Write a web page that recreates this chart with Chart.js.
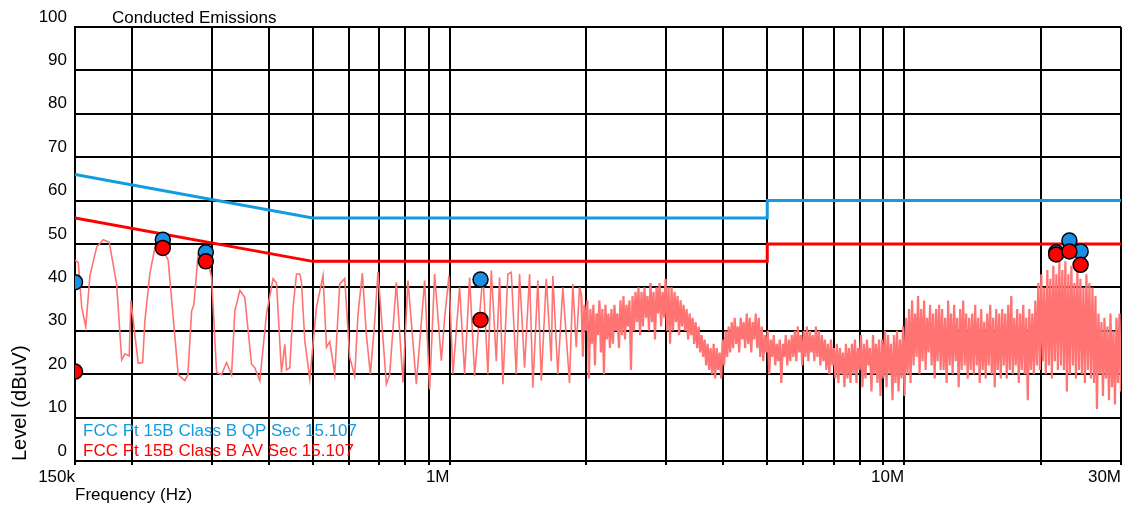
<!DOCTYPE html>
<html>
<head>
<meta charset="utf-8">
<script src="https://cdn.jsdelivr.net/npm/chart.js@4.4.1/dist/chart.umd.min.js"></script>
<style>
  html, body { margin: 0; padding: 0; background: #fff; }
  #wrap { width: 1130px; height: 513px; position: relative; }
</style>
</head>
<body>
<div id="wrap"><canvas id="c" width="1130" height="513"></canvas></div>
<script>
const FONT = '"Liberation Sans", Arial, Helvetica, sans-serif';

const chartTitle = 'Conducted Emissions';
const xTitle = 'Frequency (Hz)';
const yTitle = 'Level (dBuV)';

// Grid frequencies (MHz) and the few that carry a label
const gridFreqMHz = [0.15, 0.2, 0.3, 0.4, 0.5, 0.6, 0.7, 0.8, 0.9, 1, 2, 3, 4, 5, 6, 7, 8, 9, 10, 20, 30];
const tickLabelFreqMHz = [0.15, 1, 10, 30];
const tickLabelText = ['150k', '1M', '10M', '30M'];

// FCC Part 15B Class B conducted limits
const qpLimitFreqMHz = [0.15, 0.5, 5, 5, 30];
const qpLimitLevel   = [66, 56, 56, 60, 60];
const avLimitFreqMHz = [0.15, 0.5, 5, 5, 30];
const avLimitLevel   = [56, 46, 46, 50, 50];

// Final measurements
const qpPeakFreqMHz = [0.15, 0.234, 0.291, 1.17, 21.6, 23.1, 24.45];
const qpPeakLevel   = [41.2, 51.0, 48.1, 41.8, 48.1, 50.8, 48.3];
const avPeakFreqMHz = [0.15, 0.234, 0.291, 1.17, 21.6, 23.1, 24.45];
const avPeakLevel   = [20.6, 49.1, 46.0, 32.5, 47.6, 48.3, 45.2];

// Pre-scan, low band (explicit frequency / level pairs)
const scanFreqMHz = [
  0.1500, 0.1525, 0.1552, 0.1584, 0.1618, 0.1674, 0.1731, 0.1784, 0.1852, 0.1900,
  0.1932, 0.1974, 0.1991, 0.2066, 0.2113, 0.2137, 0.2192, 0.2249, 0.2306, 0.2405,
  0.2530, 0.2617, 0.2657, 0.2708, 0.2739, 0.2799, 0.2921, 0.2996, 0.3073, 0.3151,
  0.3232, 0.3315, 0.3371, 0.3457, 0.3545, 0.3668, 0.3729, 0.3825, 0.3957, 0.4091,
  0.4163, 0.4269, 0.4341, 0.4379, 0.4452, 0.4527, 0.4606, 0.4684, 0.4724, 0.4804,
  0.4927, 0.5096, 0.5269, 0.5361, 0.5451, 0.5591, 0.5734, 0.5881, 0.6031, 0.6185,
  0.6290, 0.6431, 0.6563, 0.6697, 0.6844, 0.6960, 0.7262, 0.7385, 0.7639, 0.7899,
  0.8101, 0.8453, 0.8816, 0.9042, 0.9273, 0.9593, 0.9755, 0.9970, 1.0173, 1.0524,
  1.0795, 1.1072, 1.1356, 1.1843, 1.2146, 1.2357, 1.2673, 1.2887, 1.3104, 1.3439,
  1.3672, 1.4022, 1.4258, 1.4625, 1.5000, 1.5252, 1.5643, 1.5915, 1.6322, 1.6740,
  1.6875, 1.7307, 1.7751, 1.8363, 1.8673, 1.8998, 1.9318
];
const scanLevel = [
  46.3, 45.8, 35.4, 30.9, 42.7, 49.3, 51.0, 50.4, 40.8, 23.3,
  24.7, 24.2, 37.0, 22.5, 22.7, 32.3, 43.2, 49.3, 50.4, 46.2,
  19.9, 18.5, 19.9, 34.6, 36.0, 47.7, 47.3, 42.3, 20.4, 19.9,
  22.7, 19.9, 34.6, 39.3, 37.7, 22.3, 21.5, 18.5, 33.9, 42.0,
  41.0, 20.4, 26.9, 21.0, 21.5, 35.4, 43.1, 43.1, 41.2, 27.7,
  18.9, 35.4, 42.7, 26.2, 27.5, 20.0, 40.8, 42.0, 23.9, 19.6,
  33.8, 43.3, 29.0, 20.0, 32.0, 43.6, 17.7, 19.9, 41.2, 18.1,
  41.6, 17.7, 41.6, 16.5, 43.1, 23.1, 33.0, 42.7, 20.0, 40.0,
  20.0, 42.3, 19.6, 43.1, 20.0, 43.9, 23.0, 42.3, 17.7, 43.1,
  43.5, 20.0, 43.1, 21.5, 43.1, 16.9, 41.6, 18.5, 42.0, 23.0,
  42.7, 20.0, 40.0, 18.0, 40.8, 26.2, 40.0
];

// Pre-scan, high band: log-spaced sweep from sweepStartMHz to sweepStopMHz
const sweepStartMHz = 1.95;
const sweepStopMHz = 30;
const sweepLevel = [
  38, 24, 36, 30, 37, 19, 35, 27, 36, 22, 34, 29, 37, 25, 35, 20, 36, 28, 34, 26,
  35, 27, 36, 30, 34, 26, 37, 29, 38, 28, 36, 31, 37, 21, 38, 30, 39, 32, 40, 29,
  39, 31, 40, 33, 38, 30, 41, 32, 39, 28, 40, 34, 41, 31, 39, 33, 42, 30, 40, 27,
  40, 30, 39, 32, 38, 29, 37, 31, 36, 30, 35, 28, 34, 29, 33, 27, 32, 26, 31, 25,
  29, 24, 28, 22, 27, 21, 26, 20, 27, 19, 26, 21, 25, 19, 28, 22, 30, 24, 31, 25,
  32, 26, 33, 27, 31, 25, 33, 28, 32, 26, 34, 27, 33, 25, 32, 28, 34, 26, 33, 24,
  31, 23, 29, 25, 30, 20, 28, 24, 29, 22, 27, 23, 28, 18, 27, 24, 29, 22, 28, 23,
  29, 24, 30, 23, 31, 25, 29, 22, 30, 24, 31, 23, 30, 25, 29, 23, 31, 24, 30, 22,
  29, 23, 28, 21, 27, 20, 28, 22, 26, 19, 27, 18, 26, 20, 25, 17, 27, 19, 26, 18,
  27, 20, 28, 18, 26, 21, 29, 17, 27, 19, 28, 22, 26, 16, 29, 20, 27, 18, 28, 15,
  28, 19, 30, 17, 29, 20, 27, 14, 29, 18, 30, 16, 28, 19, 31, 15, 33, 20, 35, 18,
  37, 22, 34, 24, 38, 20, 35, 23, 37, 21, 33, 25, 36, 22, 34, 19, 35, 23, 36, 21,
  35, 21, 33, 18, 37, 22, 34, 20, 36, 23, 33, 17, 35, 21, 37, 22, 34, 19, 33, 21,
  34, 20, 36, 22, 33, 18, 35, 21, 32, 19, 34, 22, 36, 20, 33, 17, 35, 21, 34, 19,
  35, 22, 34, 19, 36, 21, 38, 20, 33, 22, 35, 18, 34, 21, 36, 20, 33, 14, 35, 21,
  34, 20, 37, 22, 41, 21, 43, 23, 40, 20, 44, 22, 42, 19, 45, 23, 43, 21, 46, 22,
  44, 21, 46, 16, 43, 20, 45, 22, 41, 19, 44, 21, 42, 20, 40, 18, 43, 21, 41, 19,
  40, 18, 38, 12, 34, 20, 32, 15, 33, 19, 31, 14, 34, 17, 30, 13, 33, 18, 34, 16
];

const QP_BLUE = '#129be0';
const MARK_BLUE = '#1a8fe6';
const AV_RED = '#ff0000';
const TRACE = '#ff7373';

const toPoints = (fx, ly) => fx.map((f, i) => ({ x: f, y: ly[i] }));

const lowBandPoints = toPoints(scanFreqMHz, scanLevel);
const nSweep = sweepLevel.length;
const sweepRatio = sweepStopMHz / sweepStartMHz;
const sweepPoints = [lowBandPoints[lowBandPoints.length - 1]];
sweepLevel.forEach((lv, i) => {
  sweepPoints.push({ x: sweepStartMHz * Math.pow(sweepRatio, i / (nSweep - 1)), y: lv });
});

const overlayText = {
  id: 'overlayText',
  afterDatasetsDraw(chart) {
    const { ctx, chartArea } = chart;
    ctx.save();
    ctx.font = '17px ' + FONT;
    ctx.textAlign = 'left';
    ctx.textBaseline = 'alphabetic';
    ctx.fillStyle = '#000';
    ctx.fillText(chartTitle, chartArea.left + 37, chartArea.top - 4.5);
    const keyed = chart.data.datasets.filter(d => d.inKey);
    keyed.forEach((d, i) => {
      ctx.fillStyle = d.borderColor;
      ctx.fillText(d.label, chartArea.left + 8, chartArea.bottom - 25 + i * 20);
    });
    ctx.restore();
  }
};

const markerStyle = { showLine: false, pointRadius: 7.5, pointBorderColor: '#000', pointBorderWidth: 1.5, clip: 0 };

new Chart(document.getElementById('c'), {
  type: 'scatter',
  data: {
    datasets: [
      Object.assign({ label: 'AV markers', data: toPoints(avPeakFreqMHz, avPeakLevel), pointBackgroundColor: AV_RED, order: 1 }, markerStyle),
      Object.assign({ label: 'QP markers', data: toPoints(qpPeakFreqMHz, qpPeakLevel), pointBackgroundColor: MARK_BLUE, order: 2 }, markerStyle),
      {
        label: 'FCC Pt 15B Class B QP Sec 15.107',
        inKey: true,
        data: toPoints(qpLimitFreqMHz, qpLimitLevel),
        showLine: true,
        borderColor: QP_BLUE,
        borderWidth: 3,
        pointRadius: 0,
        clip: 0,
        order: 4
      },
      {
        label: 'FCC Pt 15B Class B AV Sec 15.107',
        inKey: true,
        data: toPoints(avLimitFreqMHz, avLimitLevel),
        showLine: true,
        borderColor: AV_RED,
        borderWidth: 3,
        pointRadius: 0,
        clip: 0,
        order: 3
      },
      {
        label: 'Pre-scan low band',
        data: lowBandPoints,
        showLine: true,
        borderColor: TRACE,
        borderWidth: 1.6,
        pointRadius: 0,
        clip: 0,
        order: 5
      },
      {
        label: 'Pre-scan high band',
        data: sweepPoints,
        showLine: true,
        borderColor: TRACE,
        borderWidth: 2.2,
        pointRadius: 0,
        clip: 0,
        order: 6
      }
    ]
  },
  options: {
    responsive: false,
    devicePixelRatio: 1,
    animation: false,
    events: [],
    layout: { padding: { top: 27, right: 8, left: 0, bottom: 0 } },
    plugins: {
      legend: { display: false },
      tooltip: { enabled: false },
      title: { display: false }
    },
    scales: {
      x: {
        type: 'logarithmic',
        min: 0.15,
        max: 30,
        afterBuildTicks: s => { s.ticks = gridFreqMHz.map(v => ({ value: v })); },
        afterFit: s => { s.height = 52; },
        grid: { color: '#000', lineWidth: 2, drawTicks: true, tickLength: 4, tickColor: '#000' },
        border: { color: '#000', width: 2 },
        ticks: {
          autoSkip: false,
          maxRotation: 0,
          minRotation: 0,
          align: 'end',
          padding: 2,
          color: '#000',
          font: { family: FONT, size: 17 },
          callback: v => {
            const i = tickLabelFreqMHz.indexOf(v);
            return i < 0 ? '' : tickLabelText[i];
          }
        },
        title: {
          display: true,
          text: xTitle,
          align: 'start',
          color: '#000',
          font: { family: FONT, size: 17 },
          padding: { top: 0, bottom: 7 }
        }
      },
      y: {
        type: 'linear',
        min: 0,
        max: 100,
        afterFit: s => { s.width = 75; },
        grid: { color: '#000', lineWidth: 2, drawTicks: false },
        border: { color: '#000', width: 2 },
        ticks: {
          stepSize: 10,
          padding: 8,
          labelOffset: -10,
          color: '#000',
          font: { family: FONT, size: 17 }
        },
        title: {
          display: true,
          text: yTitle,
          align: 'start',
          color: '#000',
          font: { family: FONT, size: 20 },
          padding: { top: 8, bottom: 0 }
        }
      }
    }
  },
  plugins: [overlayText]
});
</script>
</body>
</html>
